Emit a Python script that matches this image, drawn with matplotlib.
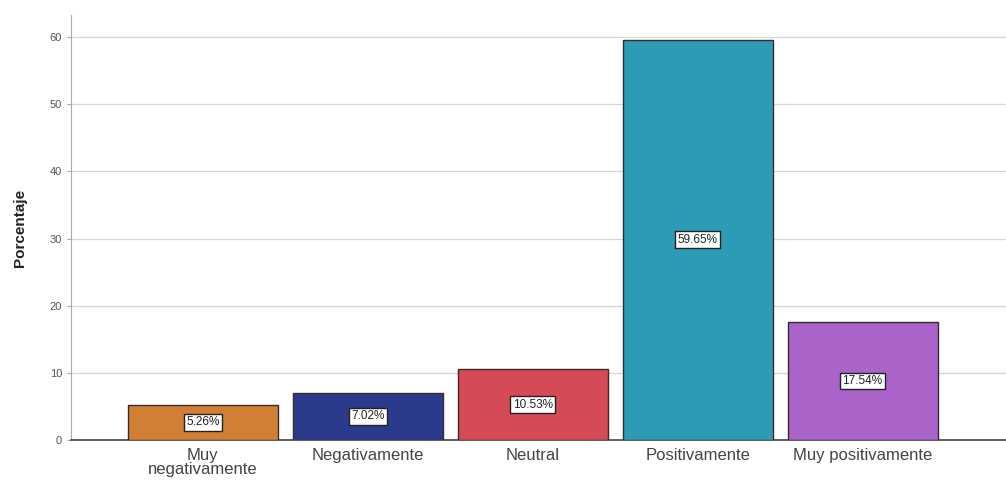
import matplotlib
matplotlib.use('Agg')
import matplotlib.pyplot as plt

plt.rcParams['font.family'] = ['Liberation Sans', 'DejaVu Sans']

categories = ['Muy\nnegativamente', 'Negativamente', 'Neutral', 'Positivamente', 'Muy positivamente']
percentages = [5.26, 7.02, 10.53, 59.65, 17.54]
bar_colors = ['#D07F35', '#2B3A8A', '#D44A55', '#2C9BB5', '#A963C9']
y_ticks = [0, 10, 20, 30, 40, 50, 60]

fig = plt.figure(figsize=(10.06, 4.84), dpi=100)
ax = fig.add_axes([71 / 1006, 44 / 484, (1006 - 71) / 1006, (440 - 15) / 484])

x = list(range(len(categories)))
bars = ax.bar(x, percentages, width=0.91, color=bar_colors, edgecolor='#3a2a2a', linewidth=1.0, zorder=3)

# value labels in white boxes, centred in each bar
for bar, val in zip(bars, percentages):
    ax.text(bar.get_x() + bar.get_width() / 2, val / 2, f'{val:.2f}%',
            ha='center', va='center', fontsize=8.5, color='#222222', zorder=4,
            bbox=dict(boxstyle='square,pad=0.2', facecolor='white', edgecolor='#222222', linewidth=1.0))

ax.set_xlim(-0.8, 4.87)
ax.set_ylim(0, 63.3)
ax.set_yticks(y_ticks)
ax.set_xticks(x)
ax.set_xticklabels(categories, fontsize=12, color='#444444', linespacing=0.9)
ax.tick_params(axis='x', length=0, pad=6)
ax.tick_params(axis='y', length=3, labelsize=8, labelcolor='#555555', color='#aaaaaa')
ax.set_ylabel('Porcentaje', fontsize=11, fontweight='bold', color='#222222', labelpad=16)

ax.grid(axis='y', color='#d6d6d6', linewidth=0.9, zorder=0)
for side in ['top', 'right']:
    ax.spines[side].set_visible(False)
ax.spines['left'].set_color('#aaaaaa')
ax.spines['bottom'].set_color('#444444')
ax.spines['bottom'].set_linewidth(1.2)

fig.savefig('out.png', dpi=100)
